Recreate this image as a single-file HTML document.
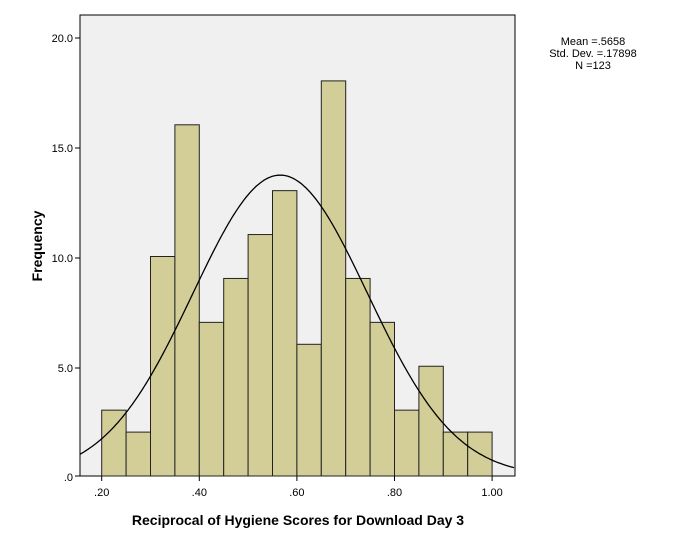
<!DOCTYPE html>
<html><head><style>body{margin:0;background:#fff}svg{display:block}</style></head>
<body>
<svg id="s" width="685" height="547" xmlns="http://www.w3.org/2000/svg" font-family="Liberation Sans, sans-serif">
<rect x="80" y="15" width="435" height="461" fill="#f0f0f0" stroke="#000" stroke-width="1"/>
<g id="bars" fill="#d3ce97" stroke="#222" stroke-width="1"></g>
<path id="curve" fill="none" stroke="#000" stroke-width="1.3"/>
<g font-size="11" fill="#000" text-anchor="end">
<text x="73" y="42">20.0</text><text x="73" y="152">15.0</text><text x="73" y="262">10.0</text><text x="73" y="372">5.0</text><text x="73" y="481">.0</text>
</g>
<g stroke="#000"><line x1="75" x2="80" y1="38" y2="38"/><line x1="75" x2="80" y1="148" y2="148"/><line x1="75" x2="80" y1="258" y2="258"/><line x1="75" x2="80" y1="368" y2="368"/><line x1="75" x2="80" y1="476" y2="476"/>
<line x1="101.7" x2="101.7" y1="476" y2="481"/><line x1="199.3" x2="199.3" y1="476" y2="481"/><line x1="296.9" x2="296.9" y1="476" y2="481"/><line x1="394.5" x2="394.5" y1="476" y2="481"/><line x1="492.1" x2="492.1" y1="476" y2="481"/></g>
<g font-size="11" text-anchor="middle">
<text x="101.7" y="496">.20</text><text x="199.3" y="496">.40</text><text x="296.9" y="496">.60</text><text x="394.5" y="496">.80</text><text x="492.1" y="496">1.00</text>
</g>
<text x="298" y="525" font-size="14" font-weight="bold" text-anchor="middle">Reciprocal of Hygiene Scores for Download Day 3</text>
<text transform="translate(42,246) rotate(-90)" font-size="14" font-weight="bold" text-anchor="middle">Frequency</text>
<g font-size="11" text-anchor="middle"><text x="593" y="45">Mean =.5658</text><text x="593" y="57">Std. Dev. =.17898</text><text x="593" y="69">N =123</text></g>
</svg>
<script>
var c=[3,2,10,16,7,9,11,13,6,18,9,7,3,5,2,2],g=document.getElementById('bars'),h='';
function X(v){return 101.7+(v-0.2)*488}function Y(f){return 476-f*21.95}
c.forEach(function(n,i){var x0=X(0.2+i*0.05),x1=X(0.25+i*0.05);h+='<rect x="'+x0+'" y="'+Y(n)+'" width="'+(x1-x0)+'" height="'+(n*21.95)+'"/>';});
g.innerHTML=h;
var m=.5658,s=.17898,k=123*0.05/(s*Math.sqrt(2*Math.PI)),d='';
for(var px=80;px<=515;px+=2){var v=0.2+(px-101.7)/488;var f=k*Math.exp(-Math.pow(v-m,2)/(2*s*s));d+=(px==80?'M':'L')+px+','+Y(f).toFixed(1);}
document.getElementById('curve').setAttribute('d',d);
</script>
</body></html>
